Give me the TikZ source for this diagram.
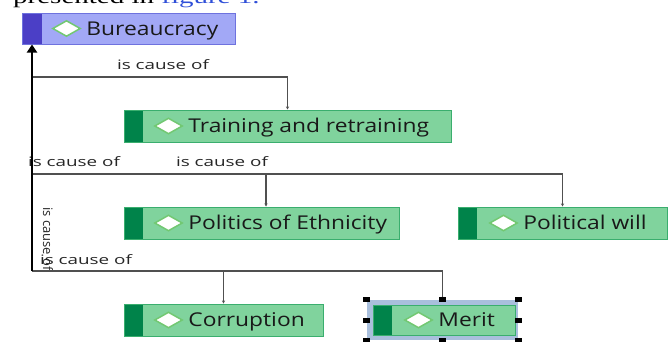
\documentclass[tikz,border=0pt]{standalone}
\usepackage{fontspec}
\usetikzlibrary{positioning,shapes.geometric,arrows.meta}

\newfontfamily\boxfont[FakeStretch=1.2]{Open Sans}
\newfontfamily\relfont[FakeStretch=1.45]{Open Sans}
\newfontfamily\vrelfont{Open Sans}
\newfontfamily\pagefont[FakeStretch=1.45]{Liberation Serif}

\definecolor{burfill}{HTML}{A2A8F6}
\definecolor{burstrip}{HTML}{4B3FC6}
\definecolor{burline}{HTML}{6E72DE}
\definecolor{conceptfill}{HTML}{80D39D}
\definecolor{conceptstrip}{HTML}{00834A}
\definecolor{conceptline}{HTML}{3AAE6E}
\definecolor{selfill}{HTML}{A9BFDC}
\definecolor{gemline}{HTML}{72C872}
\definecolor{linkgray}{HTML}{505050}
\definecolor{pageblue}{HTML}{2F4FD8}

\tikzset{
  concept/.style={draw=conceptline, fill=conceptfill, line width=1pt,
    minimum height=32pt, inner sep=0pt,
    path picture={\fill[conceptstrip] (path picture bounding box.south west)
      rectangle ([xshift=19pt]path picture bounding box.north west);}},
  rootconcept/.style={concept, draw=burline, fill=burfill, minimum height=31pt,
    path picture={\fill[burstrip] (path picture bounding box.south west)
      rectangle ([xshift=20pt]path picture bounding box.north west);}},
  gem/.style={diamond, draw=gemline, fill=white, line width=1.5pt,
    minimum width=28pt, minimum height=16pt, inner sep=0pt},
  conceptname/.style={inner sep=0pt, text=black!90, anchor=base west, yshift=-6.5pt,
    font=\boxfont\fontsize{19}{19}\selectfont},
  rel/.style={inner sep=0pt, text=black!85,
    font=\relfont\fontsize{13}{13}\selectfont},
  link/.style={draw=linkgray, line width=1.2pt, -{Stealth[length=3pt,width=3pt]}},
  trunk/.style={draw=black},
  selection/.style={fill=selfill, minimum width=151pt, minimum height=40pt, inner sep=0pt},
  handle/.style={fill=black, minimum width=7pt, minimum height=5pt, inner sep=0pt},
  pagetext/.style={inner sep=0pt, font=\pagefont\fontsize{20}{20}\selectfont}
}

\begin{document}
\begin{tikzpicture}[x=1pt,y=-1pt]
\useasboundingbox (0,0) rectangle (669,341);
\clip (0,0) rectangle (669,341);

% page text cut off at the top
\node[pagetext, anchor=base west] (caption) at (13,3) {presented in \textcolor{pageblue}{figure 1.}};

%% concepts
\node[rootconcept, minimum width=213pt] (bur) at (128.5,28.5) {};
\node[gem] (bur_gem) at ([xshift=45pt]bur.west) {};
\node[conceptname, right=5pt of bur_gem, anchor=base west] (bur_name) {Bureaucracy};

\node[concept, minimum width=327pt] (train) at (287.5,126) {};
\node[gem] (train_gem) at ([xshift=45pt]train.west) {};
\node[conceptname, right=5pt of train_gem, anchor=base west] (train_name) {Training and retraining};

\node[concept, minimum width=275pt] (pol_eth) at (261.5,223) {};
\node[gem] (pol_eth_gem) at ([xshift=45pt]pol_eth.west) {};
\node[conceptname, right=5pt of pol_eth_gem, anchor=base west] (pol_eth_name) {Politics of Ethnicity};

\node[concept, minimum width=209pt] (will) at (562.5,223) {};
\node[gem] (will_gem) at ([xshift=46pt]will.west) {};
\node[conceptname, right=5pt of will_gem, anchor=base west] (will_name) {Political will};

\node[concept, minimum width=199pt] (corr) at (223.5,320) {};
\node[gem] (corr_gem) at ([xshift=45pt]corr.west) {};
\node[conceptname, right=5pt of corr_gem, anchor=base west] (corr_name) {Corruption};

% selected concept
\node[selection] (merit_sel) at (442.5,320) {};
\node[concept, minimum width=142pt, minimum height=30pt] (merit) at (444,320) {};
\node[gem] (merit_gem) at ([xshift=46pt]merit.west) {};
\node[conceptname, right=5pt of merit_gem, anchor=base west] (merit_name) {Merit};

%% relations
\coordinate (j1) at (32,77);
\coordinate (j2) at (32,174);
\coordinate (j3) at (32,271);

\node[rel] (rel_train) at (163,65) {is cause of};
\node[rel] (rel_eth_a) at (74,162) {is cause of};
\node[rel] (rel_eth_b) at (222,162) {is cause of};
\node[rel] (rel_corr) at (86,260) {is cause of};
\node[rel, rotate=-90, font=\vrelfont\fontsize{13}{13}\selectfont] (rel_merit) at (48,239) {is cause of};

\draw[link] (j1) -| (train.north);
\draw[link] (j2) -| ([xshift=4.5pt]pol_eth.north);
\draw[link] (j2) -| (will.north);
\draw[link] (j3) -| (corr.north);
\draw[link] (j3) -| (merit_sel.north);

\draw[trunk, line width=1.8pt] (j3) -- (j2);
\draw[trunk, line width=2.8pt, -{Triangle[length=8pt,width=10pt]}] (j2) -- (bur.south -| j2);

\foreach \a in {north west,north,north east,west,east,south west,south,south east}
  \node[handle] at (merit_sel.\a) {};

\end{tikzpicture}
\end{document}
